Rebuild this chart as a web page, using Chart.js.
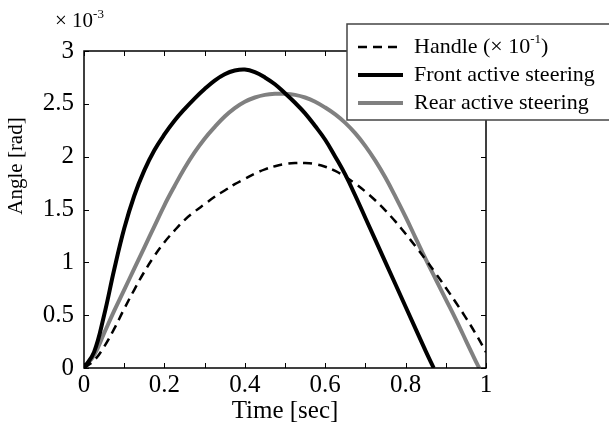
<!DOCTYPE html>
<html>
<head>
<meta charset="utf-8">
<script src="https://cdn.jsdelivr.net/npm/chart.js@4/dist/chart.umd.min.js"></script>
<style>
html,body{margin:0;padding:0;background:#fff;}
#wrap{width:609px;height:432px;position:relative;}
</style>
</head>
<body>
<div id="wrap"><canvas id="c" width="609" height="432"></canvas></div>
<script>
// Values in units of 1e-3 rad
const handleTime  = [0, 0.025, 0.05, 0.075, 0.1, 0.125, 0.15, 0.175, 0.2, 0.225, 0.25, 0.275, 0.3, 0.325, 0.35, 0.375, 0.4, 0.425, 0.45, 0.475, 0.5, 0.525, 0.55, 0.575, 0.6, 0.625, 0.65, 0.675, 0.7, 0.725, 0.75, 0.775, 0.8, 0.825, 0.85, 0.875, 0.9, 0.925, 0.95, 0.975, 1.0];
const handleAngle = [0, 0.07, 0.20, 0.37, 0.56, 0.74, 0.91, 1.06, 1.19, 1.30, 1.40, 1.48, 1.55, 1.62, 1.68, 1.74, 1.79, 1.84, 1.88, 1.91, 1.93, 1.94, 1.94, 1.93, 1.905, 1.865, 1.81, 1.745, 1.67, 1.585, 1.49, 1.385, 1.27, 1.15, 1.025, 0.895, 0.76, 0.62, 0.475, 0.32, 0.15];

const frontTime  = [0, 0.025, 0.05, 0.075, 0.1, 0.125, 0.15, 0.175, 0.2, 0.225, 0.25, 0.275, 0.3, 0.325, 0.35, 0.375, 0.4, 0.425, 0.45, 0.475, 0.5, 0.525, 0.55, 0.575, 0.6, 0.625, 0.65, 0.675, 0.7, 0.75, 0.8, 0.85, 0.87];
const frontAngle = [0, 0.15, 0.50, 0.93, 1.32, 1.63, 1.87, 2.06, 2.21, 2.34, 2.45, 2.55, 2.64, 2.72, 2.78, 2.815, 2.825, 2.80, 2.75, 2.685, 2.60, 2.51, 2.41, 2.29, 2.16, 2.00, 1.83, 1.63, 1.42, 1.00, 0.58, 0.16, 0];

const rearTime  = [0, 0.025, 0.05, 0.075, 0.1, 0.125, 0.15, 0.175, 0.2, 0.225, 0.25, 0.275, 0.3, 0.325, 0.35, 0.375, 0.4, 0.425, 0.45, 0.475, 0.5, 0.525, 0.55, 0.575, 0.6, 0.625, 0.65, 0.675, 0.7, 0.725, 0.75, 0.775, 0.8, 0.825, 0.85, 0.875, 0.9, 0.925, 0.95, 0.975, 0.983];
const rearAngle = [0, 0.12, 0.33, 0.54, 0.74, 0.94, 1.14, 1.34, 1.54, 1.72, 1.89, 2.04, 2.17, 2.28, 2.38, 2.46, 2.52, 2.56, 2.585, 2.595, 2.595, 2.585, 2.56, 2.52, 2.465, 2.40, 2.32, 2.22, 2.10, 1.96, 1.80, 1.62, 1.43, 1.23, 1.03, 0.84, 0.65, 0.46, 0.26, 0.06, 0];

const xTicks = [0, 0.2, 0.4, 0.6, 0.8, 1];
const xMinorTicks = [0.1, 0.3, 0.5, 0.7, 0.9];
const yTicks = [0, 0.5, 1, 1.5, 2, 2.5, 3];

const seriesLabels = ['Handle', 'Front active steering', 'Rear active steering'];
const yTitle = 'Angle [rad]';

const pts = (t, v) => t.map((x, i) => ({x: x, y: v[i]}));
const SERIF = '"Liberation Serif", "DejaVu Serif", serif';

const framePlugin = {
  id: 'frame',
  afterDraw(chart) {
    const ctx = chart.ctx;
    const a = chart.chartArea;
    const xs = chart.scales.x, ys = chart.scales.y;
    ctx.save();
    ctx.strokeStyle = '#000';
    ctx.lineWidth = 1.5;
    ctx.strokeRect(a.left, a.top, a.right - a.left, a.bottom - a.top);
    ctx.lineWidth = 1;
    const tl = 5;
    ctx.beginPath();
    xTicks.concat(xMinorTicks).forEach(v => {
      const px = Math.round(xs.getPixelForValue(v)) + 0.5;
      ctx.moveTo(px, a.bottom); ctx.lineTo(px, a.bottom - tl);
      ctx.moveTo(px, a.top); ctx.lineTo(px, a.top + tl);
    });
    yTicks.forEach(v => {
      const py = Math.round(ys.getPixelForValue(v)) + 0.5;
      ctx.moveTo(a.left, py); ctx.lineTo(a.left + tl, py);
      ctx.moveTo(a.right, py); ctx.lineTo(a.right - tl, py);
    });
    ctx.stroke();

    // y axis title
    ctx.save();
    ctx.fillStyle = '#000';
    ctx.font = '21px ' + SERIF;
    ctx.textAlign = 'center';
    ctx.textBaseline = 'alphabetic';
    ctx.translate(22, 166);
    ctx.rotate(-Math.PI / 2);
    ctx.fillText(yTitle, 0, 0);
    ctx.restore();

    // exponent label
    ctx.fillStyle = '#000';
    ctx.textBaseline = 'alphabetic';
    ctx.textAlign = 'left';
    ctx.font = '21px ' + SERIF;
    ctx.fillText('\u00d7 10', 55, 27);
    const w1 = ctx.measureText('\u00d7 10').width;
    ctx.font = '13px ' + SERIF;
    ctx.fillText('-3', 55 + w1, 18);

    // legend
    const lx = 347, ly = 24, lw = 270, lh = 96;
    ctx.fillStyle = '#fff';
    ctx.fillRect(lx, ly, lw, lh);
    ctx.strokeStyle = '#444';
    ctx.lineWidth = 1.5;
    ctx.strokeRect(lx, ly, lw, lh);
    const rows = [47, 75, 103];
    chart.data.datasets.forEach((ds, i) => {
      const y = rows[i];
      ctx.strokeStyle = ds.borderColor;
      ctx.lineWidth = ds.borderWidth;
      ctx.setLineDash(ds.borderDash || []);
      ctx.beginPath();
      ctx.moveTo(358, y); ctx.lineTo(403, y);
      ctx.stroke();
      ctx.setLineDash([]);
      ctx.fillStyle = '#000';
      ctx.font = '22px ' + SERIF;
      ctx.textBaseline = 'middle';
      let tx = 414;
      if (i === 0) {
        const s1 = ds.label + ' (\u00d7 10';
        ctx.fillText(s1, tx, y);
        tx += ctx.measureText(s1).width;
        ctx.font = '13px ' + SERIF;
        ctx.fillText('-1', tx, y - 7);
        tx += ctx.measureText('-1').width;
        ctx.font = '22px ' + SERIF;
        ctx.fillText(')', tx, y);
      } else {
        ctx.fillText(ds.label, tx, y);
      }
    });
    ctx.restore();
  }
};

new Chart(document.getElementById('c'), {
  type: 'line',
  data: {
    datasets: [
      {label: seriesLabels[0], data: pts(handleTime, handleAngle), borderColor: '#000', borderWidth: 2.5, borderDash: [9, 6], pointRadius: 0, tension: 0.4, fill: false},
      {label: seriesLabels[1], data: pts(frontTime, frontAngle), borderColor: '#000', borderWidth: 4, pointRadius: 0, tension: 0.4, fill: false},
      {label: seriesLabels[2], data: pts(rearTime, rearAngle), borderColor: '#808080', borderWidth: 4, pointRadius: 0, tension: 0.4, fill: false}
    ]
  },
  options: {
    responsive: false,
    animation: false,
    devicePixelRatio: 1,
    layout: {padding: {top: 51, right: 123, left: 0, bottom: 0}},
    plugins: {legend: {display: false}, tooltip: {enabled: false}},
    scales: {
      x: {
        type: 'linear', min: 0, max: 1,
        afterBuildTicks: s => { s.ticks = xTicks.map(v => ({value: v})); },
        afterFit: s => { s.height = 64; },
        grid: {display: false, drawTicks: false},
        border: {display: false},
        ticks: {color: '#000', font: {family: SERIF, size: 25}, padding: 2, maxRotation: 0,
                callback: v => String(v)},
        title: {display: true, text: 'Time [sec]', color: '#000', font: {family: SERIF, size: 25}, padding: {top: 0, bottom: 6}}
      },
      y: {
        type: 'linear', min: 0, max: 3,
        afterBuildTicks: s => { s.ticks = yTicks.map(v => ({value: v})); },
        afterFit: s => { s.width = 84; },
        grid: {display: false, drawTicks: false},
        border: {display: false},
        ticks: {color: '#000', font: {family: SERIF, size: 25}, padding: 10,
                callback: v => String(v)},
        title: {display: false}
      }
    }
  },
  plugins: [framePlugin]
});
</script>
</body>
</html>
